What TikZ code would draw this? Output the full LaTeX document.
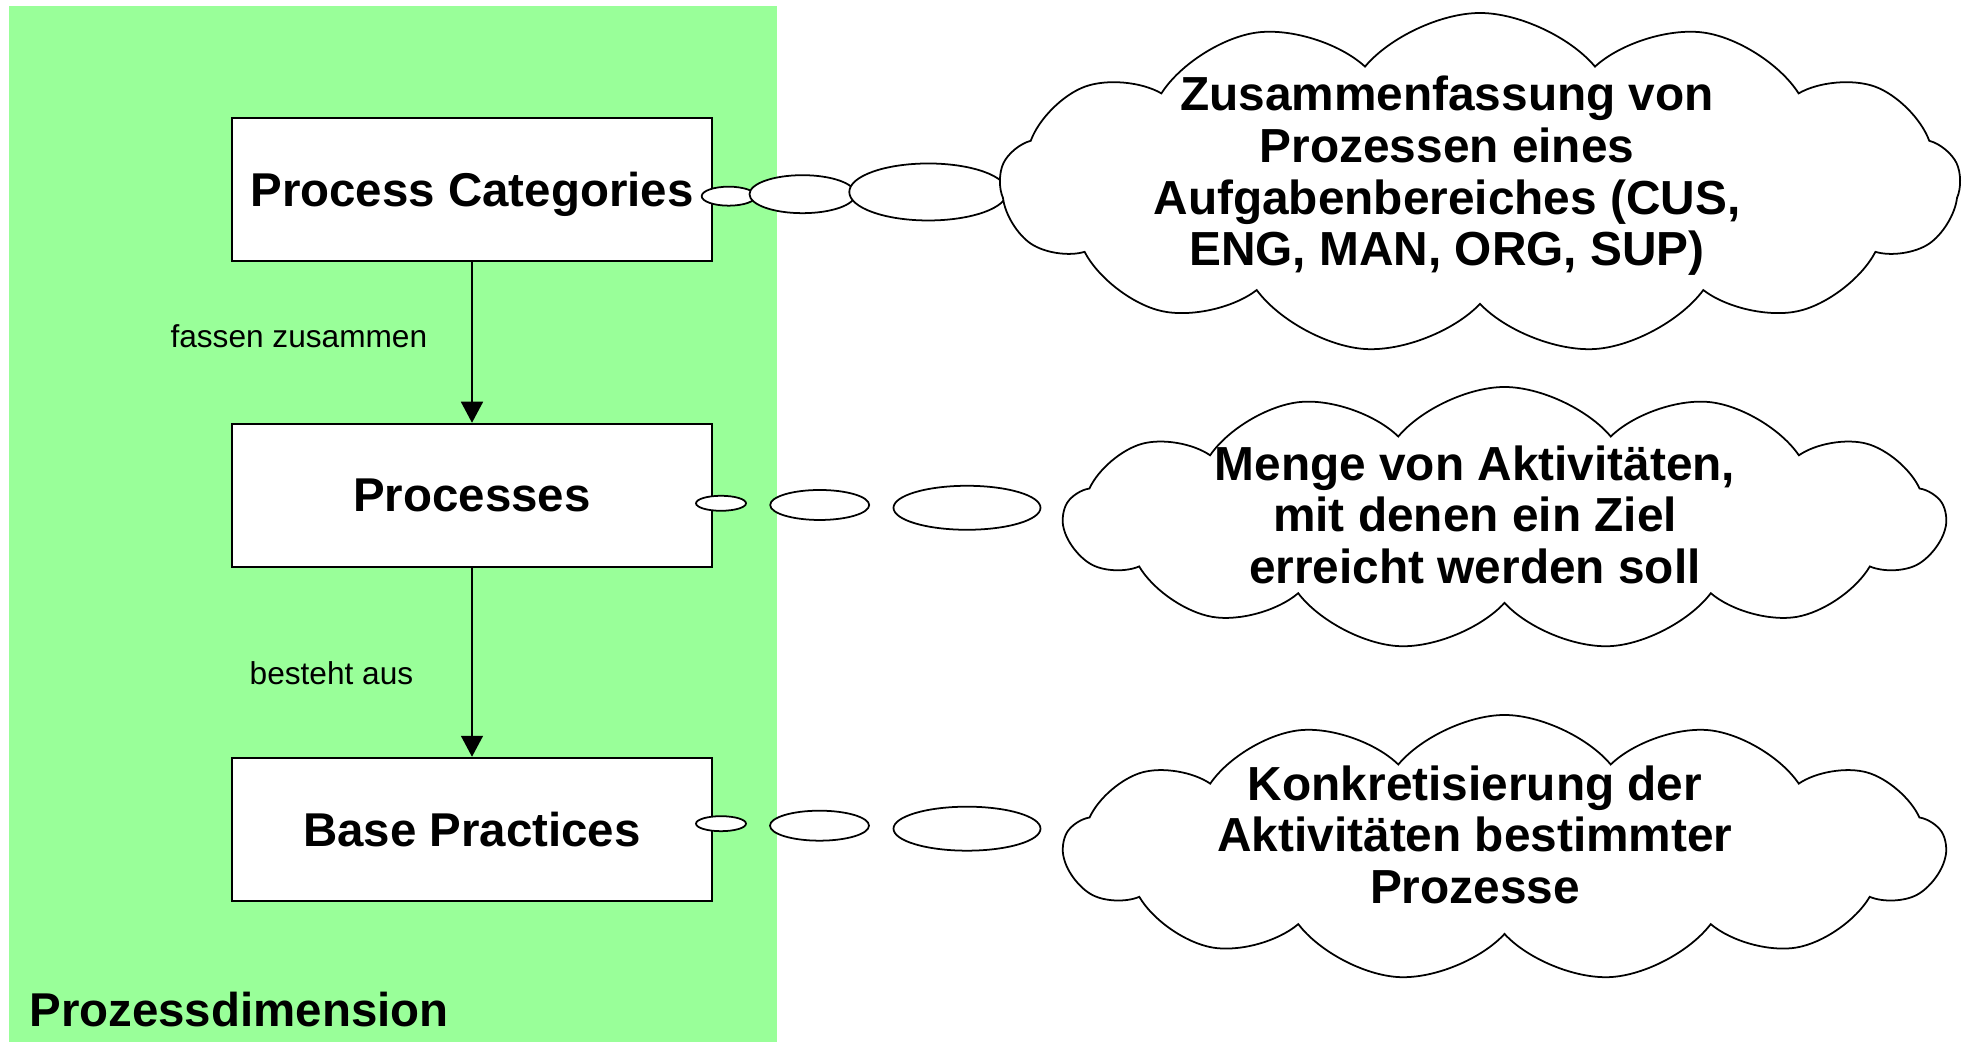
\documentclass[tikz,border=0pt]{standalone}
\usepackage{fontspec}
\setmainfont{Liberation Sans}
\usepackage{xcolor}
\usetikzlibrary{shapes.geometric,shapes.symbols,arrows.meta,positioning}

\definecolor{procgreen}{RGB}{153,255,153}

\begin{document}
\begin{tikzpicture}[-,auto,node distance=3cm,
                    thick,box node/.style={rectangle,draw,fill=white,line width=0.7pt,minimum width=4.8cm,minimum height=1.43cm,inner sep=0pt,text depth=0pt,font=\fontsize{13.5}{14.7}\selectfont\bfseries},
                    bubble node/.style={ellipse,draw,fill=white,line width=0.5pt,inner sep=0pt},
                    cloud node/.style={cloud,draw,fill=white,line width=0.5pt,cloud puffs=13,cloud puff arc=100,inner sep=0pt},
                    cloud text/.style={align=center,inner sep=0pt,font=\fontsize{13.6}{14.7}\selectfont\bfseries}]

  \useasboundingbox (0,0) rectangle (19.68,10.43);
  \fill[procgreen] (0.09,0.01) rectangle (7.77,10.37);

  \node[box node] at (4.72,8.535) (1) {Process Categories};
  \node[box node] (2) [below of=1,node distance=3.06cm] {Processes};
  \node[box node] (3) [below of=2,node distance=3.34cm] {Base Practices};

  \path[-{Triangle[length=2.1mm,width=2.2mm]},line width=0.45pt,every node/.style={inner sep=0pt,font=\fontsize{9}{10}\selectfont}]
    (1) edge node[left=4.4mm,pos=0.46] {fassen zusammen} (2)
    (2) edge node[left=5.8mm,pos=0.555] {besteht aus} (3);

  % thought bubbles
  \node[bubble node,minimum width=0.54cm,minimum height=0.19cm] at (7.287,8.468) (7) {};
  \node[bubble node,minimum width=1.06cm,minimum height=0.38cm] at (8.025,8.488) (8) {};
  \node[bubble node,minimum width=1.58cm,minimum height=0.57cm] at (9.283,8.51) (9) {};
  \node[bubble node,minimum width=0.50cm,minimum height=0.15cm] at (7.21,5.397) (10) {};
  \node[bubble node,minimum width=0.99cm,minimum height=0.30cm] at (8.197,5.38) (11) {};
  \node[bubble node,minimum width=1.47cm,minimum height=0.44cm] at (9.67,5.352) (12) {};
  \node[bubble node,minimum width=0.50cm,minimum height=0.15cm] at (7.21,2.193) (13) {};
  \node[bubble node,minimum width=0.99cm,minimum height=0.30cm] at (8.195,2.173) (14) {};
  \node[bubble node,minimum width=1.47cm,minimum height=0.44cm] at (9.67,2.143) (15) {};

  % clouds
  \node[cloud node,minimum width=9.6cm,minimum height=3.41cm] at (14.80,8.595) (4) {};
  \node[cloud node,minimum width=8.81cm,minimum height=2.63cm] at (15.045,5.245) (5) {};
  \node[cloud node,minimum width=8.81cm,minimum height=2.66cm] at (15.045,1.95) (6) {};

  \node[cloud text] at (14.47,8.67) (4a) {Zusammenfassung von\\Prozessen eines\\Aufgabenbereiches (CUS,\\ENG, MAN, ORG, SUP)};
  \node[cloud text] at (14.75,5.284) (5a) {Menge von Aktivitäten,\\mit denen ein Ziel\\erreicht werden soll};
  \node[cloud text] at (14.75,2.084) (6a) {Konkretisierung der\\Aktivitäten bestimmter\\Prozesse};

  \node[anchor=west,inner sep=0pt,font=\fontsize{13.5}{14.7}\selectfont\bfseries] at (0.28,0.33) (0) {Prozessdimension};

\end{tikzpicture}
\end{document}
